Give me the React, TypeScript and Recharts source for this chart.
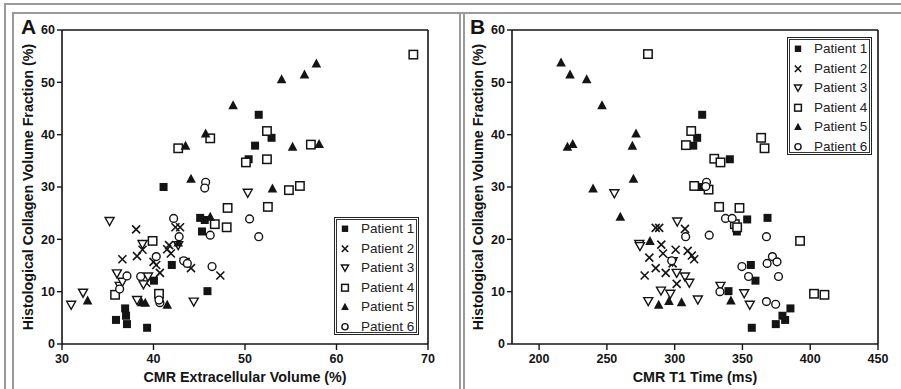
import React from "react";
import { ScatterChart, Scatter, XAxis, YAxis, ReferenceLine } from "recharts";

type Pt = [number, number];

const PATIENTS = ["Patient 1", "Patient 2", "Patient 3", "Patient 4", "Patient 5", "Patient 6"];
const MARKERS = ["filledSquare", "cross", "openTriDown", "openSquare", "filledTri", "openCircle"];

const CVF_TICKS = [0, 10, 20, 30, 40, 50, 60];
const ECV_TICKS = [30, 40, 50, 60, 70];
const T1_TICKS = [200, 250, 300, 350, 400, 450];

// panel A: [ECV %, collagen volume fraction %]
const ecvP1: Pt[] = [[41.1, 30.0], [51.5, 43.8], [51.1, 37.9], [52.9, 39.4], [50.4, 35.3], [45.1, 24.1], [45.6, 23.7], [45.3, 21.5], [42.0, 15.1], [40.05, 12.1], [45.9, 10.1], [35.9, 4.6], [36.9, 6.8], [37.0, 5.4], [37.1, 3.8], [39.3, 3.1]];
const ecvP2: Pt[] = [[38.1, 21.9], [36.6, 16.2], [38.2, 16.8], [38.8, 18.0], [39.2, 11.7], [40.0, 15.7], [40.3, 15.1], [40.7, 13.6], [41.5, 18.1], [41.7, 18.9], [41.9, 17.3], [42.4, 22.3], [42.9, 22.3], [44.1, 14.5], [47.3, 13.1]];
const ecvP3: Pt[] = [[35.2, 23.5], [36.0, 13.5], [36.3, 11.1], [38.8, 19.1], [38.2, 8.4], [44.4, 8.1], [50.3, 28.9], [42.7, 18.9], [43.4, 15.7], [32.3, 9.8], [31.0, 7.5], [36.6, 11.9], [39.4, 12.9], [38.9, 11.4]];
const ecvP4: Pt[] = [[68.4, 55.3], [52.4, 40.7], [42.7, 37.4], [46.2, 39.3], [57.2, 38.1], [50.1, 34.7], [52.4, 35.3], [54.8, 29.4], [56.0, 30.2], [48.1, 26.0], [52.5, 26.2], [46.7, 22.9], [48.0, 22.3], [39.9, 19.7], [40.6, 9.6], [35.8, 9.4]];
const ecvP5: Pt[] = [[57.8, 53.6], [56.5, 51.5], [54.0, 50.6], [48.7, 45.6], [45.7, 40.2], [43.5, 37.9], [55.2, 37.7], [58.1, 38.2], [44.1, 31.6], [53.0, 29.7], [46.2, 24.3], [42.7, 19.4], [32.8, 8.3], [38.7, 8.0], [39.1, 7.9], [41.5, 7.5]];
const ecvP6: Pt[] = [[45.7, 30.9], [45.6, 29.8], [42.2, 24.0], [50.5, 23.9], [51.5, 20.5], [46.2, 20.8], [42.8, 20.5], [46.4, 14.8], [40.3, 16.7], [43.3, 15.9], [43.7, 15.4], [37.1, 13.0], [38.6, 12.9], [40.7, 7.9], [40.6, 8.4], [36.3, 10.5]];

// panel B: [T1 ms, collagen volume fraction %]
const t1P1: Pt[] = [[320.3, 43.8], [316.6, 39.4], [313.7, 37.9], [340.7, 35.3], [319.1, 30.0], [353.5, 23.8], [368.5, 24.1], [345.9, 21.5], [356.2, 15.1], [359.6, 12.1], [339.7, 10.1], [356.9, 3.1], [374.6, 3.8], [379.5, 5.4], [381.5, 4.6], [385.4, 6.8]];
const t1P2: Pt[] = [[286.0, 22.2], [288.6, 22.2], [307.6, 22.0], [290.1, 19.0], [300.7, 18.0], [291.4, 17.3], [309.6, 17.8], [312.7, 16.9], [314.4, 16.2], [281.3, 16.5], [298.5, 15.4], [286.0, 14.5], [293.4, 13.6], [277.9, 13.1], [301.5, 11.5]];
const t1P3: Pt[] = [[255.5, 28.8], [301.9, 23.4], [273.9, 19.1], [274.4, 18.7], [298.5, 15.8], [301.5, 13.6], [307.6, 12.9], [310.8, 11.7], [289.9, 10.2], [296.8, 9.6], [280.5, 8.2], [317.1, 8.5], [333.8, 11.1], [351.3, 9.7], [355.4, 7.5]];
const t1P4: Pt[] = [[280.3, 55.4], [312.2, 40.7], [308.3, 38.0], [363.8, 39.4], [366.3, 37.4], [329.2, 35.4], [333.8, 34.7], [314.4, 30.2], [325.0, 29.5], [332.8, 26.2], [347.8, 26.0], [344.4, 22.9], [346.1, 22.3], [392.5, 19.7], [402.8, 9.6], [410.5, 9.4]];
const t1P5: Pt[] = [[216.2, 53.8], [222.8, 51.5], [235.1, 50.6], [246.4, 45.6], [271.5, 40.2], [220.9, 37.7], [224.8, 38.2], [268.8, 37.9], [269.6, 31.6], [239.8, 29.7], [259.9, 24.3], [281.8, 19.7], [288.2, 7.5], [295.8, 8.2], [305.1, 8.0], [341.5, 8.3]];
const t1P6: Pt[] = [[323.5, 30.9], [323.0, 30.1], [337.5, 24.0], [342.4, 24.0], [308.1, 20.5], [325.5, 20.8], [367.7, 20.5], [372.1, 16.7], [375.5, 15.7], [368.2, 15.4], [349.6, 14.8], [354.5, 12.9], [376.6, 12.9], [333.4, 10.0], [367.7, 8.1], [374.5, 7.6], [297.8, 15.9]];

const INK = "#141414";
const FONT = "Arial, 'Liberation Sans', sans-serif";

const toPoints = (arr: Pt[]) => arr.map(([x, y]) => ({ x, y }));

function Marker({ kind, cx, cy, s = 1 }: { kind: string; cx: number; cy: number; s?: number }) {
  switch (kind) {
    case "filledSquare":
      return <rect x={cx - 4 * s} y={cy - 4 * s} width={8 * s} height={8 * s} fill={INK} />;
    case "cross":
      return (
        <g stroke={INK} strokeWidth={1.6}>
          <line x1={cx - 4 * s} y1={cy - 4 * s} x2={cx + 4 * s} y2={cy + 4 * s} />
          <line x1={cx - 4 * s} y1={cy + 4 * s} x2={cx + 4 * s} y2={cy - 4 * s} />
        </g>
      );
    case "openTriDown":
      return (
        <polygon
          points={`${cx - 4.5 * s},${cy - 3.5 * s} ${cx + 4.5 * s},${cy - 3.5 * s} ${cx},${cy + 4.5 * s}`}
          fill="#fff"
          stroke={INK}
          strokeWidth={1.4}
        />
      );
    case "openSquare":
      return (
        <rect x={cx - 4.2 * s} y={cy - 4.2 * s} width={8.4 * s} height={8.4 * s} fill="#fff" stroke={INK} strokeWidth={1.5} />
      );
    case "filledTri":
      return <polygon points={`${cx},${cy - 5 * s} ${cx + 4.8 * s},${cy + 4 * s} ${cx - 4.8 * s},${cy + 4 * s}`} fill={INK} />;
    default:
      return <circle cx={cx} cy={cy} r={3.9 * s} fill="#fff" stroke={INK} strokeWidth={1.4} />;
  }
}

function LegendBox({ left, top }: { left: number; top: number }) {
  return (
    <div
      style={{
        position: "absolute",
        left,
        top,
        width: 85,
        height: 118,
        boxSizing: "border-box",
        border: "1px solid #222",
        boxShadow: "inset 0 0 0 1px #fff, inset 0 0 0 2px #333",
        background: "#fff",
      }}
    >
      {PATIENTS.map((name, i) => (
        <div
          key={name}
          style={{ position: "absolute", left: 0, top: 1 + i * 19.5, height: 19.5, width: 85 }}
        >
          <svg width={20} height={19.5} style={{ position: "absolute", left: 0, top: 0 }}>
            <Marker kind={MARKERS[i]} cx={10} cy={9.75} s={0.8} />
          </svg>
          <span
            style={{
              position: "absolute",
              left: 26,
              top: 0,
              lineHeight: "19.5px",
              fontSize: 13.5,
              color: "#222",
              fontFamily: FONT,
              whiteSpace: "nowrap",
            }}
          >
            {name}
          </span>
        </div>
      ))}
    </div>
  );
}

interface PanelProps {
  sets: Pt[][];
  xDomain: [number, number];
  xTicks: number[];
  xLabel: string;
  width: number;
  rightMargin: number;
}

function Panel({ sets, xDomain, xTicks, xLabel, width, rightMargin }: PanelProps) {
  const tickStyle = { fill: INK, fontSize: 12.5, fontWeight: 700, fontFamily: FONT };
  const titleStyle = { fill: INK, fontSize: 14.3, fontWeight: 700, fontFamily: FONT };
  return (
    <ScatterChart width={width} height={389} margin={{ top: 30, right: rightMargin, bottom: 0, left: 0 }}>
      <XAxis
        type="number"
        dataKey="x"
        domain={xDomain}
        ticks={xTicks}
        allowDataOverflow
        height={45}
        tickSize={6}
        tickMargin={4}
        tick={tickStyle}
        axisLine={{ stroke: INK, strokeWidth: 1.6 }}
        tickLine={{ stroke: INK, strokeWidth: 1.4 }}
        label={{ value: xLabel, position: "insideBottom", offset: 7, style: titleStyle }}
      />
      <YAxis
        type="number"
        dataKey="y"
        domain={[0, 60]}
        ticks={CVF_TICKS}
        allowDataOverflow
        width={62}
        tickSize={5}
        tickMargin={2}
        tick={tickStyle}
        axisLine={{ stroke: INK, strokeWidth: 1.6 }}
        tickLine={{ stroke: INK, strokeWidth: 1.4 }}
        label={{
          value: "Histological Collagen Volume Fraction (%)",
          angle: -90,
          position: "insideLeft",
          offset: 28,
          style: { ...titleStyle, textAnchor: "middle" },
        }}
      />
      <ReferenceLine y={60} stroke={INK} strokeWidth={1.6} />
      <ReferenceLine x={xDomain[1]} stroke={INK} strokeWidth={1.6} />
      {sets.map((set, i) => (
        <Scatter
          key={PATIENTS[i]}
          name={PATIENTS[i]}
          data={toPoints(set)}
          isAnimationActive={false}
          shape={(p: any) => <Marker kind={MARKERS[i]} cx={p.cx} cy={p.cy} />}
        />
      ))}
    </ScatterChart>
  );
}

const frameLine = (style: React.CSSProperties) => (
  <div style={{ position: "absolute", background: "#9a9a9a", ...style }} />
);

export default function App() {
  return (
    <div
      style={{
        position: "absolute",
        left: 0,
        top: 0,
        width: 901,
        height: 389,
        background: "#fff",
        overflow: "hidden",
        fontFamily: FONT,
      }}
    >
      {frameLine({ left: 4, top: 3, width: 897, height: 1.5 })}
      {frameLine({ left: 12, top: 12, width: 889, height: 1.5 })}
      {frameLine({ left: 4, top: 3, width: 1.5, height: 386 })}
      {frameLine({ left: 12, top: 12, width: 1.5, height: 377 })}
      {frameLine({ left: 459, top: 12, width: 1.5, height: 377 })}
      {frameLine({ left: 463, top: 12, width: 1.5, height: 377 })}

      <div style={{ position: "absolute", left: 0, top: 0 }}>
        <Panel
          sets={[ecvP1, ecvP2, ecvP3, ecvP4, ecvP5, ecvP6]}
          xDomain={[30, 70]}
          xTicks={ECV_TICKS}
          xLabel="CMR Extracellular Volume (%)"
          width={450}
          rightMargin={22}
        />
      </div>
      <div style={{ position: "absolute", left: 450, top: 0 }}>
        <Panel
          sets={[t1P1, t1P2, t1P3, t1P4, t1P5, t1P6]}
          xDomain={[180, 450]}
          xTicks={T1_TICKS}
          xLabel="CMR T1 Time (ms)"
          width={451}
          rightMargin={23}
        />
      </div>

      <div style={{ position: "absolute", left: 21, top: 15, fontSize: 21, fontWeight: 700, color: INK, lineHeight: "24px" }}>A</div>
      <div style={{ position: "absolute", left: 470, top: 15, fontSize: 21, fontWeight: 700, color: INK, lineHeight: "24px" }}>B</div>

      <LegendBox left={334} top={217} />
      <LegendBox left={787} top={37} />
    </div>
  );
}
